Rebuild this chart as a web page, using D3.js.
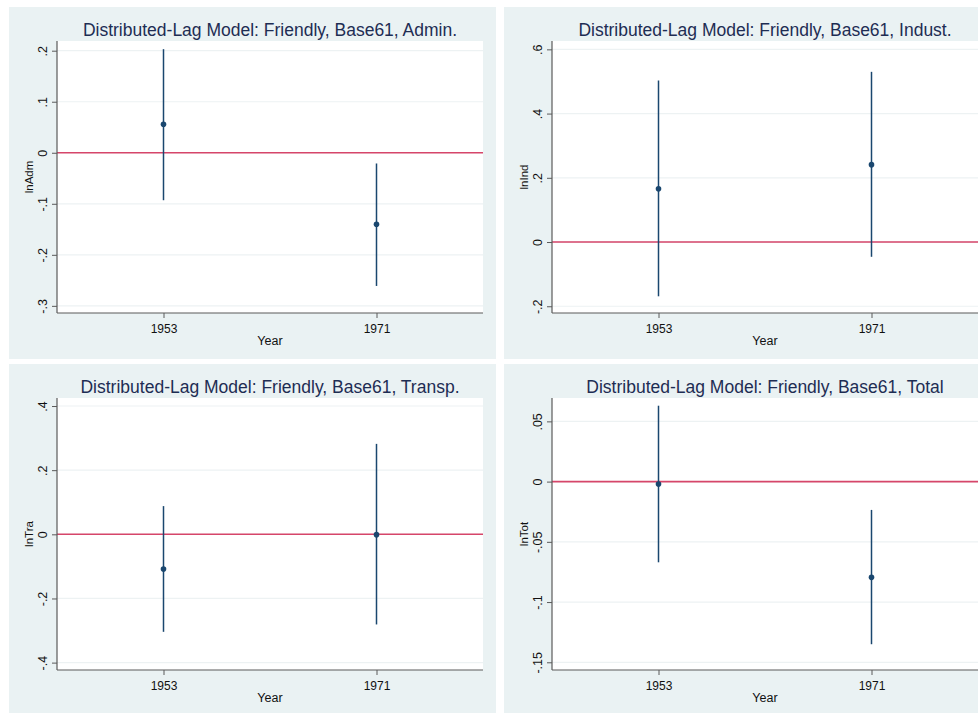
<!DOCTYPE html>
<html>
<head>
<meta charset="utf-8">
<script src="https://cdn.jsdelivr.net/npm/d3@7"></script>
<style>
  html, body { margin: 0; padding: 0; background: #ffffff; }
  svg { display: block; }
  text { font-family: "Liberation Sans", Arial, sans-serif; }
</style>
</head>
<body>
<svg id="chart" width="978" height="713"></svg>
<script>
// ---- Data ----
const years = [1953, 1971];
const xTickLabels = ["1953", "1971"];
const xDomain = [1944, 1980];

const titles = [
  "Distributed-Lag Model: Friendly, Base61, Admin.",
  "Distributed-Lag Model: Friendly, Base61, Indust.",
  "Distributed-Lag Model: Friendly, Base61, Transp.",
  "Distributed-Lag Model: Friendly, Base61, Total"
];
const yTitles = ["lnAdm", "lnInd", "lnTra", "lnTot"];

// Admin.
const admCoef = [0.056, -0.140];
const admLo   = [-0.093, -0.261];
const admHi   = [0.203, -0.021];
const admTicks = [-0.3, -0.2, -0.1, 0, 0.1, 0.2];
const admTickLabels = ["-.3", "-.2", "-.1", "0", ".1", ".2"];
const admDomain = [-0.314, 0.219];

// Indust.
const indCoef = [0.166, 0.241];
const indLo   = [-0.169, -0.046];
const indHi   = [0.503, 0.530];
const indTicks = [-0.2, 0, 0.2, 0.4, 0.6];
const indTickLabels = ["-.2", "0", ".2", ".4", ".6"];
const indDomain = [-0.221, 0.626];

// Transp.
const traCoef = [-0.108, -0.001];
const traLo   = [-0.304, -0.281];
const traHi   = [0.088, 0.282];
const traTicks = [-0.4, -0.2, 0, 0.2, 0.4];
const traTickLabels = ["-.4", "-.2", "0", ".2", ".4"];
const traDomain = [-0.423, 0.425];

// Total
const totCoef = [-0.002, -0.0795];
const totLo   = [-0.067, -0.135];
const totHi   = [0.063, -0.0235];
const totTicks = [-0.15, -0.1, -0.05, 0, 0.05];
const totTickLabels = ["-.15", "-.1", "-.05", "0", ".05"];
const totDomain = [-0.1564, 0.0694];

const panels = [
  { coef: admCoef, lo: admLo, hi: admHi, ticks: admTicks, labels: admTickLabels, domain: admDomain },
  { coef: indCoef, lo: indLo, hi: indHi, ticks: indTicks, labels: indTickLabels, domain: indDomain },
  { coef: traCoef, lo: traLo, hi: traHi, ticks: traTicks, labels: traTickLabels, domain: traDomain },
  { coef: totCoef, lo: totLo, hi: totHi, ticks: totTicks, labels: totTickLabels, domain: totDomain }
];

// ---- Layout ----
const svg = d3.select("#chart");
const panelBoxes = [
  { x: 9,   y: 7,   w: 487, h: 352 },
  { x: 504, y: 7,   w: 487, h: 352 },
  { x: 9,   y: 364, w: 487, h: 352 },
  { x: 504, y: 364, w: 487, h: 352 }
];
// plot area offsets inside each panel
const plotOff = { left: 48, top: 34, width: 426, height: 272 };

const navy = "#1a476f";
const refRed = "#d6466a";
const gridCol = "#edf2f3";
const axisCol = "#5a5a5a";
const bgCol = "#eaf2f3";

panels.forEach((p, i) => {
  const box = panelBoxes[i];
  const g = svg.append("g").attr("transform", `translate(${box.x},${box.y})`);
  g.append("rect").attr("width", box.w).attr("height", box.h).attr("fill", bgCol);

  const pg = g.append("g").attr("transform", `translate(${plotOff.left},${plotOff.top})`);
  const W = plotOff.width, H = plotOff.height;
  pg.append("rect").attr("width", W).attr("height", H).attr("fill", "#ffffff");

  const x = d3.scaleLinear().domain(xDomain).range([0, W]);
  const y = d3.scaleLinear().domain(p.domain).range([H, 0]);

  // gridlines
  pg.selectAll(".grid").data(p.ticks).enter().append("line")
    .attr("x1", 0).attr("x2", W)
    .attr("y1", d => y(d)).attr("y2", d => y(d))
    .attr("stroke", gridCol).attr("stroke-width", 1.2);

  // reference line at 0
  pg.append("line")
    .attr("x1", 0).attr("x2", W)
    .attr("y1", y(0)).attr("y2", y(0))
    .attr("stroke", refRed).attr("stroke-width", 1.6);

  // CI lines
  pg.selectAll(".ci").data(years).enter().append("line")
    .attr("x1", d => x(d)).attr("x2", d => x(d))
    .attr("y1", (d, j) => y(p.lo[j])).attr("y2", (d, j) => y(p.hi[j]))
    .attr("stroke", navy).attr("stroke-width", 1.5);

  // points
  pg.selectAll(".pt").data(years).enter().append("circle")
    .attr("cx", d => x(d)).attr("cy", (d, j) => y(p.coef[j]))
    .attr("r", 2.8).attr("fill", navy);

  // y axis
  const yAxis = d3.axisLeft(y).tickValues(p.ticks)
    .tickFormat((d, j) => p.labels[j]).tickSize(5).tickPadding(5);
  const ya = pg.append("g").call(yAxis);
  ya.select(".domain").attr("d", `M0,0V${H}`).attr("stroke", axisCol).attr("stroke-width", 1.2);
  ya.selectAll(".tick line").attr("stroke", axisCol);
  ya.selectAll(".tick text")
    .attr("x", null).attr("dy", null)
    .attr("transform", "translate(-10,0) rotate(-90)")
    .attr("text-anchor", "middle")
    .attr("font-size", 12.5).attr("fill", "#111")
    .style("font-family", '"Liberation Sans", Arial, sans-serif');

  // x axis
  const xAxis = d3.axisBottom(x).tickValues(years)
    .tickFormat((d, j) => xTickLabels[j]).tickSize(5).tickPadding(6);
  const xa = pg.append("g").attr("transform", `translate(0,${H})`).call(xAxis);
  xa.select(".domain").attr("d", `M0,0H${W}`).attr("stroke", axisCol).attr("stroke-width", 1.2);
  xa.selectAll(".tick line").attr("stroke", axisCol);
  xa.selectAll(".tick text").attr("font-size", 12).attr("fill", "#111")
    .style("font-family", '"Liberation Sans", Arial, sans-serif');

  // axis titles
  pg.append("text").attr("x", W / 2).attr("y", H + 32)
    .attr("text-anchor", "middle").attr("font-size", 12.5).attr("fill", "#111")
    .text("Year");
  pg.append("text")
    .attr("transform", `translate(-24,${H / 2}) rotate(-90)`)
    .attr("text-anchor", "middle").attr("font-size", 11.5).attr("fill", "#111")
    .text(yTitles[i]);

  // title
  g.append("text").attr("x", plotOff.left + W / 2).attr("y", 29)
    .attr("text-anchor", "middle").attr("font-size", 17.5).attr("fill", "#1e2d53")
    .text(titles[i]);
});
</script>
</body>
</html>
